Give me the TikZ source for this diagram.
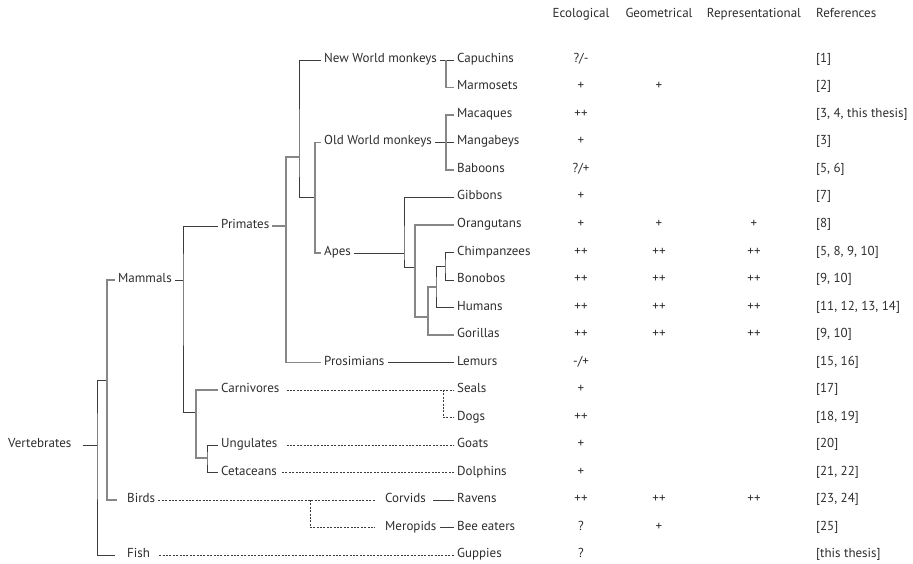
\documentclass[tikz,border=0pt]{standalone}
\usepackage{fontspec}
\setmainfont{PT Sans}
\usetikzlibrary{positioning}
\definecolor{txtgray}{RGB}{45, 45, 45}
\definecolor{treedark}{RGB}{60, 60, 60}
\definecolor{treelight}{RGB}{135, 135, 135}

\tikzset{
  taxon/.style={anchor=mid west, inner xsep=3pt, inner ysep=1pt, text=txtgray, font=\fontsize{13}{15}\selectfont},
  score/.style={anchor=mid, inner sep=1pt, text=txtgray, font=\fontsize{13}{15}\selectfont},
  refcell/.style={anchor=mid west, inner sep=0pt, text=txtgray, font=\fontsize{13}{15}\selectfont},
  dkline/.style={draw=treedark, line width=0.9pt},
  ltline/.style={draw=treelight, line width=1.1pt},
  dshline/.style={draw=treedark, line width=0.65pt, dash pattern=on 2pt off 1.4pt}
}

\begin{document}
\begin{tikzpicture}[x=1pt, y=-1pt]
  \useasboundingbox (0,0) rectangle (913,564);

  % column headers
  \node[score] (hEco) at (581,15) {Ecological};
  \node[score] (hGeo) at (659,15) {Geometrical};
  \node[score] (hRep) at (754,15) {Representational};
  \node[refcell] (hRef) at (816,15) {References};

  % species, one row each
  \foreach \sp/\lab [count=\i from 0] in {capu/Capuchins, marmo/Marmosets, maca/Macaques,
      manga/Mangabeys, babo/Baboons, gibb/Gibbons, orang/Orangutans, chimp/Chimpanzees,
      bono/Bonobos, human/Humans, gori/Gorillas, lemur/Lemurs, seal/Seals, dog/Dogs,
      goat/Goats, dolph/Dolphins, raven/Ravens, bee/Bee eaters, guppy/Guppies}
    \node[taxon] (\sp) at (454,{60+27.5*\i}) {\lab};

  % scores and references
  \foreach \sp/\eco/\geo/\rep/\refs in {capu/{?/-}/{}/{}/{[1]}, marmo/+/+/{}/{[2]},
      maca/++/{}/{}/{[3, 4, this thesis]}, manga/+/{}/{}/{[3]}, babo/{?/+}/{}/{}/{[5, 6]},
      gibb/+/{}/{}/{[7]}, orang/+/+/+/{[8]}, chimp/++/++/++/{[5, 8, 9, 10]},
      bono/++/++/++/{[9, 10]}, human/++/++/++/{[11, 12, 13, 14]}, gori/++/++/++/{[9, 10]},
      lemur/{-/+}/{}/{}/{[15, 16]}, seal/+/{}/{}/{[17]}, dog/++/{}/{}/{[18, 19]},
      goat/+/{}/{}/{[20]}, dolph/+/{}/{}/{[21, 22]}, raven/++/++/++/{[23, 24]},
      bee/?/+/{}/{[25]}, guppy/?/{}/{}/{[this thesis]}}
  {
    \node[score] (\sp-eco) at (hEco |- \sp.mid west) {\eco};
    \node[score] (\sp-geo) at (hGeo |- \sp.mid west) {\geo};
    \node[score] (\sp-rep) at (hRep |- \sp.mid west) {\rep};
    \node[refcell] (\sp-ref) at (hRef.west |- \sp.mid west) {\refs};
  }

  % higher groups
  \node[taxon] (vert) at (5,445) {Vertebrates};
  \node[taxon] (mammals) at (115,280) {Mammals};
  \node[taxon] (birds) at (124,500) {Birds};
  \node[taxon] (fish) at (124,555) {Fish};
  \node[taxon] (primates) at (218,226) {Primates};
  \node[taxon] (carniv) at (218,390) {Carnivores};
  \node[taxon] (ungul) at (218,445) {Ungulates};
  \node[taxon] (cetac) at (218,472.5) {Cetaceans};
  \node[taxon] (nwm) at (321,60) {New World monkeys};
  \node[taxon] (owm) at (321,142.5) {Old World monkeys};
  \node[taxon] (apes) at (321,253) {Apes};
  \node[taxon] (prosim) at (321,362.5) {Prosimians};
  \node[taxon] (corvids) at (382,500) {Corvids};
  \node[taxon] (merop) at (382,527.5) {Meropids};

  % junctions
  \coordinate (jv) at (97,445);
  \coordinate (jmb) at (107,380);
  \coordinate (jmam) at (183,280);
  \coordinate (jpri) at (286,226);
  \coordinate (jow) at (299,157);
  \coordinate (joa) at (315,197);
  \coordinate (jnw) at (446,60);
  \coordinate (jom) at (446,142.5);
  \coordinate (jap) at (404,253);
  \coordinate (jgr) at (415,267);
  \coordinate (jhg) at (428,317);
  \coordinate (jhc) at (436,287);
  \coordinate (jcb) at (445,266);
  \coordinate (jcu) at (196,412);
  \coordinate (jug) at (207,458);
  \coordinate (jcd) at (443,390);
  \coordinate (jbd) at (310,500);

  % vertebrates
  \draw[dkline, shorten <=8pt] (vert.mid east) -- (jv);
  \draw[dkline, shorten >=9pt] (jmb) -| (jv) |- (fish.mid west);
  \draw[ltline, shorten >=7pt] (mammals.mid west) -| (jmb) |- (birds.mid west);
  \draw[dkline] (mammals.mid east) -- (jmam);
  \draw[dkline] (primates.mid west) -| (jmam) |- (jcu);

  % primates
  \draw[ltline] (primates.mid east) -- (jpri);
  \draw[ltline] (jow) -| (jpri) |- (prosim.mid west);
  \draw[dkline] (nwm.mid west) -| (jow) |- (joa);
  \draw[ltline] (owm.mid west) -| (joa) |- (apes.mid west);
  \draw[dkline] (nwm.mid east) -- (capu.mid west);
  \draw[ltline] (jnw) |- (marmo.mid west);
  \draw[dkline] (owm.mid east) -- (manga.mid west);
  \draw[ltline] (maca.mid west) -| (jom) |- (babo.mid west);
  \draw[dkline] (apes.mid east) -- (jap);
  \draw[dkline] (gibb.mid west) -| (jap) |- (jgr);
  \draw[ltline] (orang.mid west) -| (jgr) |- (jhg);
  \draw[ltline] (jhc) -| (jhg) |- (gori.mid west);
  \draw[dkline] (jcb) -| (jhc) |- (human.mid west);
  \draw[dkline] (chimp.mid west) -| (jcb) |- (bono.mid west);
  \draw[dkline] (prosim.mid east) -- (lemur.mid west);

  % other mammals
  \draw[ltline] (carniv.mid west) -| (jcu) |- (jug);
  \draw[dkline] (ungul.mid west) -| (jug) |- (cetac.mid west);
  \draw[dshline, shorten <=4pt] (carniv.mid east) -- (seal.mid west);
  \draw[dshline] (jcd) |- (dog.mid west);
  \draw[dshline, shorten <=6pt] (ungul.mid east) -- (goat.mid west);
  \draw[dshline, shorten <=2pt] (cetac.mid east) -- (dolph.mid west);

  % birds and fish
  \draw[dshline, shorten >=7pt] (birds.mid east) -- (corvids.mid west);
  \draw[dshline, shorten >=7pt] (jbd) |- (merop.mid west);
  \draw[dkline, shorten <=4pt] (corvids.mid east) -- (raven.mid west);
  \draw[dkline] (merop.mid east) -- (bee.mid west);
  \draw[dshline, shorten <=6pt] (fish.mid east) -- (guppy.mid west);
\end{tikzpicture}
\end{document}
